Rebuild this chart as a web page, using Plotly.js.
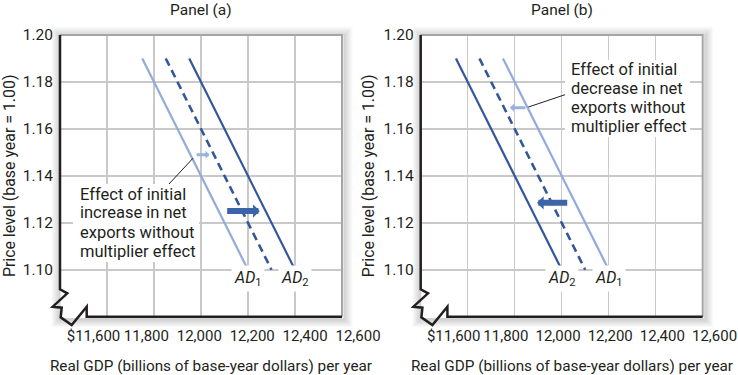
<!DOCTYPE html>
<html>
<head>
<meta charset="utf-8">
<script src="https://cdn.plot.ly/plotly-3.0.1.min.js"></script>
<style>html,body{margin:0;padding:0;background:#fff;}#chart{width:738px;height:375px;}</style>
</head>
<body>
<div id="chart"></div>
<script>
// ---------- data ----------
const priceEnds = [1.19, 1.10];               // price level at top and bottom of each AD line
const panelA_AD1 = [11750, 12200];
const panelA_mid = [11850, 12300];            // dashed: initial shift without multiplier
const panelA_AD2 = [11950, 12400];
const panelB_AD1 = [11750, 12200];
const panelB_mid = [11650, 12100];
const panelB_AD2 = [11550, 12000];
const xTickVals = [11600, 11800, 12000, 12200, 12400, 12600];
const xTickText = ['$11,600', '11,800', '12,000', '12,200', '12,400', '12,600'];
const yTickVals = [1.10, 1.12, 1.14, 1.16, 1.18, 1.20];
const yTickText = ['1.10', '1.12', '1.14', '1.16', '1.18', '1.20'];
// arrows: [tail x, tip x, price level]
const panelA_shift = [12105, 12250, 1.125];
const panelB_shift = [12030, 11895, 1.1285];
const panelA_initial = [11975, 12036, 1.149];
const panelB_initial = [11852, 11780, 1.169];
// leader lines
const panelA_leaderX = [11966, 11856];
const panelA_leaderY = [1.1475, 1.1357];
const panelB_leaderX = [11858, 12036];
const panelB_leaderY = [1.1693, 1.1753];
const panelTitles = ['Panel (a)', 'Panel (b)'];
const notesA = ['Effect of initial', 'increase in net', 'exports without', 'multiplier effect'];
const notesB = ['Effect of initial', 'decrease in net', 'exports without', 'multiplier effect'];
const xTitle = 'Real GDP (billions of base-year dollars) per year';
const yTitle = 'Price level (base year = 1.00)';

// ---------- style ----------
const W = 738, H = 375;
const px = v => v / W, py = v => 1 - v / H;
const DARK = '#34579a', LIGHT = '#92abd9', ARROW_DARK = '#3b64a9', ARROW_LIGHT = '#9ab2dd';
const INK = '#231f20', GRID = '#c9c9c9';
const FONT = 'Roboto, "Open Sans", sans-serif';
const TOP = 35, BOT = 316.7;
const panels = [
  {x: 'x', y: 'y', lx: 'x3', ly: 'y3', L: 60, R: 342,
   lblFirst: 33.5, lblLast: 298, titleC: 151,
   ad1: panelA_AD1, mid: panelA_mid, ad2: panelA_AD2, shift: panelA_shift, init: panelA_initial,
   lX: panelA_leaderX, lY: panelA_leaderY, notes: notesA, noteX: 80, noteY0: 194, noteDY: 19,
   box: [73, 199, 184, 262]},
  {x: 'x2', y: 'y2', lx: 'x4', ly: 'y4', L: 420.7, R: 702.7,
   lblFirst: 33, lblLast: 293.8, titleC: 151.3,
   ad1: panelB_AD1, mid: panelB_mid, ad2: panelB_AD2, shift: panelB_shift, init: panelB_initial,
   lX: panelB_leaderX, lY: panelB_leaderY, notes: notesB, noteX: 571, noteY0: 69.5, noteDY: 19,
   box: [565, 690, 60, 137]}
];

const traces = [];
const annotations = [];
const shapes = [];
const layout = {
  width: W, height: H, margin: {l: 0, r: 0, t: 0, b: 0},
  paper_bgcolor: '#fff', plot_bgcolor: 'rgba(0,0,0,0)', showlegend: false,
  font: {family: FONT, color: INK, size: 15}
};

panels.forEach((p, i) => {
  const xa = i === 0 ? 'xaxis' : 'xaxis2';
  const ya = i === 0 ? 'yaxis' : 'yaxis2';
  const lxa = i === 0 ? 'xaxis3' : 'xaxis4';
  const lya = i === 0 ? 'yaxis3' : 'yaxis4';
  const ydom = [py(BOT), py(TOP)];
  layout[xa] = {
    domain: [px(p.L), px(p.R)], range: [11400, 12600], anchor: p.y,
    tickvals: xTickVals, showticklabels: false, ticks: '',
    showgrid: true, gridcolor: GRID, gridwidth: 1.5, zeroline: false, showline: false
  };
  layout[ya] = {
    domain: ydom, range: [1.08, 1.20], anchor: p.x,
    tickvals: yTickVals, ticktext: yTickText, tickfont: {size: 15.5}, ticks: '',
    ticklabelstandoff: 6,
    showgrid: true, gridcolor: GRID, gridwidth: 1.5, zeroline: false, showline: false,
    title: {text: yTitle, font: {size: 15.9}, standoff: 4}
  };
  // axis carrying the evenly spread tick labels below the broken x axis
  const s = (p.lblLast - p.lblFirst) / (xTickVals[5] - xTickVals[0]);   // px per unit
  const dRight = p.lblLast, dLeft = 2 * p.titleC - p.lblLast;
  layout[lxa] = {
    domain: [px(p.L + dLeft), px(p.L + dRight)],
    range: [xTickVals[5] - (dRight - dLeft) / s, xTickVals[5]], anchor: p.ly,
    tickvals: xTickVals, ticktext: xTickText, tickfont: {size: 15}, ticks: '', tickangle: 0,
    ticklabelstandoff: 8, ticklabeloverflow: 'allow',
    showgrid: false, zeroline: false, showline: false,
    title: {text: xTitle, font: {size: 15.3}, standoff: 16}
  };
  layout[lya] = {domain: ydom, range: [0, 1], anchor: p.lx, visible: false};
  traces.push({x: [], y: [], xaxis: p.lx, yaxis: p.ly, mode: 'lines', hoverinfo: 'skip'});

  traces.push({x: p.ad1, y: priceEnds, xaxis: p.x, yaxis: p.y, mode: 'lines',
               line: {color: LIGHT, width: 2.2}, name: 'AD1'});
  traces.push({x: p.mid, y: priceEnds, xaxis: p.x, yaxis: p.y, mode: 'lines',
               line: {color: DARK, width: 2.6, dash: '8px,5px'}, name: 'initial shift'});
  traces.push({x: p.ad2, y: priceEnds, xaxis: p.x, yaxis: p.y, mode: 'lines',
               line: {color: DARK, width: 2.2}, name: 'AD2'});
  traces.push({x: p.lX, y: p.lY, xaxis: p.x, yaxis: p.y, mode: 'lines',
               line: {color: INK, width: 1}, hoverinfo: 'skip'});

  // small arrow: initial effect
  annotations.push({text: '', xref: p.x, yref: p.y, axref: p.x, ayref: p.y,
                    x: p.init[1], y: p.init[2], ax: p.init[0], ay: p.init[2],
                    showarrow: true, arrowhead: 1, arrowsize: 0.45, arrowwidth: 3, arrowcolor: ARROW_LIGHT});
  // big arrow: full shift
  annotations.push({text: '', xref: p.x, yref: p.y, axref: p.x, ayref: p.y,
                    x: p.shift[1], y: p.shift[2], ax: p.shift[0], ay: p.shift[2],
                    showarrow: true, arrowhead: 1, arrowsize: 0.37, arrowwidth: 6, arrowcolor: ARROW_DARK});
  // panel title
  annotations.push({text: panelTitles[i], xref: p.x + ' domain', x: 0.5, yref: 'paper', y: py(10),
                    yanchor: 'middle', showarrow: false, font: {size: 15.5}});
  // white box behind the note, then the note one line at a time (tight line spacing)
  shapes.push({type: 'rect', xref: 'paper', yref: 'paper', layer: 'above',
               x0: px(p.box[0]), x1: px(p.box[1]), y0: py(p.box[3]), y1: py(p.box[2]),
               fillcolor: '#fff', line: {width: 0}});
  p.notes.forEach((t, j) => {
    annotations.push({text: t, xref: 'paper', yref: 'paper', x: px(p.noteX), y: py(p.noteY0 + j * p.noteDY),
                      xanchor: 'left', yanchor: 'middle', align: 'left', showarrow: false,
                      borderpad: 0, borderwidth: 0, font: {size: 16.5}});
  });
  // curve labels
  [[p.ad1, '1'], [p.ad2, '2']].forEach(([arr, sub]) => {
    annotations.push({text: '<i>AD</i><sub>' + sub + '</sub>', xref: p.x, yref: p.y,
                      x: arr[1], y: priceEnds[1], xanchor: 'center', yanchor: 'middle', yshift: -9,
                      showarrow: false, bgcolor: '#fff', borderpad: 2, font: {size: 16}});
  });

  // drop shadow around the plot frame
  for (let d = 1; d <= 9; d++) {
    shapes.push({type: 'rect', xref: 'paper', yref: 'paper', layer: 'below',
                 x0: px(p.L - d + 1), x1: px(p.R + d + 1), y0: py(BOT + d + 1), y1: py(TOP - d + 1),
                 line: {color: 'rgba(0,0,0,' + (0.18 * (1 - d / 10)).toFixed(3) + ')', width: 1.2}});
  }
  const L = p.L, R = p.R;
  // top and right border
  shapes.push({type: 'path', xref: 'paper', yref: 'paper', layer: 'above',
               path: `M${px(L)},${py(TOP)} L${px(R)},${py(TOP)} L${px(R)},${py(BOT)}`,
               line: {color: '#a5a5a5', width: 2}});
  // left and bottom axis with break marks
  const pts = [[L, TOP], [L, 289.3], [L + 7.3, 293.3], [L - 7.3, 306.7], [L + 1.7, 307.7],
               [L + 0.7, 317.3], [L + 11.7, 325], [L + 26.7, 306.7], [L + 26.7, BOT], [R, BOT]];
  shapes.push({type: 'path', xref: 'paper', yref: 'paper', layer: 'above',
               path: pts.map((q, n) => (n ? 'L' : 'M') + px(q[0]) + ',' + py(q[1])).join(' '),
               line: {color: INK, width: 2.5}});
});

layout.annotations = annotations;
layout.shapes = shapes;
Plotly.newPlot('chart', traces, layout, {staticPlot: true, displayModeBar: false});
</script>
</body>
</html>
